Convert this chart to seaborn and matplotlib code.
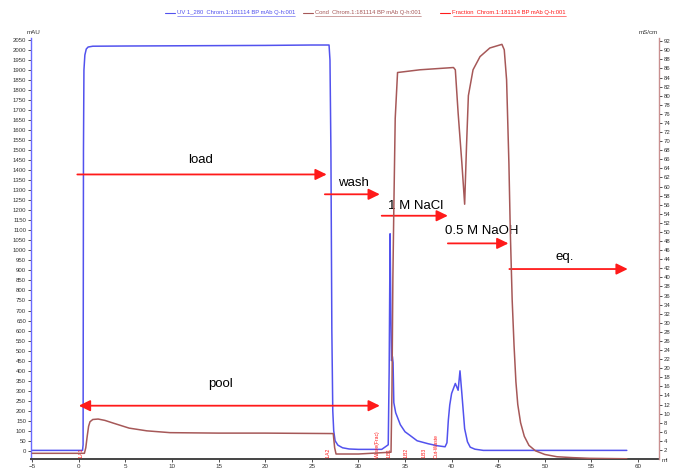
import matplotlib
matplotlib.use("Agg")
import matplotlib.pyplot as plt
from matplotlib.lines import Line2D
import seaborn as sns
import pandas as pd

# ---------------- data ----------------
uv_ml = [-5.0, 0.40, 0.46, 0.50, 0.55, 0.65, 0.80, 1.00, 1.50, 5.0, 10.0, 15.0, 20.0, 25.0, 26.85,
         26.95, 27.05, 27.15, 27.25, 27.35, 27.5, 27.8, 28.3, 29.0, 30.0, 32.5, 32.9, 33.2, 33.3,
         33.4, 33.48, 33.55, 33.65, 33.72, 33.8, 34.0, 34.5, 35.0, 35.5, 36.3, 37.5, 38.5, 39.3,
         39.5, 39.65, 39.8, 40.0, 40.4, 40.7, 40.9, 41.1, 41.4, 41.7, 42.0, 42.5, 43.4, 45.0, 50.0,
         55.0, 58.8]
uv_mau = [2, 2, 30, 1500, 1900, 1975, 2005, 2015, 2019, 2020, 2021, 2022, 2023, 2025, 2025,
          1950, 1500, 600, 200, 100, 50, 28, 15, 9, 7, 7, 20, 30, 400,
          1083, 700, 450, 470, 440, 240, 190, 130, 95, 78, 50, 35, 25, 20,
          40, 153, 228, 286, 336, 302, 399, 286, 110, 45, 18, 8, 2, 2, 2,
          2, 2]

cond_ml = [-5.0, 0.60, 0.75, 0.90, 1.05, 1.20, 1.50, 2.07, 2.8, 3.7, 5.4, 7.3, 9.8, 15.0, 20.0,
           27.3, 27.45, 27.6, 30.0, 33.5, 33.6, 33.7, 33.8, 33.95, 34.2, 36.6, 40.2, 40.4, 40.7,
           41.1, 41.4, 41.6, 41.8, 42.3, 43.05, 44.1, 45.4, 45.65, 45.9, 46.15, 46.3, 46.5, 46.7,
           46.9, 47.1, 47.4, 47.8, 48.3, 49.0, 50.0, 51.3, 53.0, 54.8, 58.8]
cond_mscm = [1.25, 1.25, 2.5, 5.0, 7.2, 8.2, 8.7, 8.8, 8.5, 7.9, 6.8, 6.2, 5.8, 5.7, 5.7,
             5.6, 2.5, 1.1, 1.1, 1.5, 15, 40, 55, 75, 85.1, 85.7, 86.2, 85.7, 76.2,
             65.2, 56.1, 68.9, 80.0, 85.7, 88.6, 90.5, 91.3, 90.1, 83.5, 65.0, 50.0, 35.0, 25.0,
             17.0, 12.0, 8.0, 5.0, 3.0, 1.8, 1.0, 0.5, 0.3, 0.15, 0.05]

frac_ml = [0.3, 26.8, 32.1, 33.3, 35.1, 37.1, 38.4]
frac_labels = ["1.A1", "1.A2", "Waste(Frac)", "1.B1", "1.B2", "1.B3", "Out-Waste"]

phase_labels = ["load", "wash", "1 M NaCl", "0.5 M NaOH", "eq."]
phase_start = [-0.16, 26.4, 32.5, 39.6, 46.2]
phase_end = [26.6, 32.3, 39.6, 46.1, 58.9]
pool_start, pool_end = 0.0, 32.3

x_ticks = list(range(-5, 61, 5))
uv_ticks = list(range(0, 2051, 50))
cond_ticks = list(range(2, 93, 2))

legend_texts = ["UV 1_280  Chrom.1:181114 BP mAb Q-h:001",
                "Cond  Chrom.1:181114 BP mAb Q-h:001",
                "Fraction  Chrom.1:181114 BP mAb Q-h:001"]

# ---------------- style ----------------
sns.set_style("white")
plt.rcParams['font.family'] = ['Liberation Sans', 'DejaVu Sans']

BLUE = "#5252ee"
BROWN = "#a65858"
RED = "#ff1a1a"
W, H = 677, 468

fig = plt.figure(figsize=(W / 100, H / 100), dpi=100)
ax = fig.add_axes([31 / W, 9 / H, (658.5 - 31) / W, (459 - 38) / H])
ax2 = ax.twinx()

uv_df = pd.DataFrame({"ml": uv_ml, "mAU": uv_mau})
cond_df = pd.DataFrame({"ml": cond_ml, "mScm": cond_mscm})

sns.lineplot(data=uv_df, x="ml", y="mAU", ax=ax, color=BLUE, lw=1.1,
             sort=False, estimator=None, legend=False)
sns.lineplot(data=cond_df, x="ml", y="mScm", ax=ax2, color=BROWN, lw=1.1,
             sort=False, estimator=None, legend=False)

ax.set_xlim(-5.13, 62.2)
ax.set_ylim(-41, 2060)
ax2.set_ylim(0, 92.7)

ax.set_xlabel("")
ax.set_ylabel("")
ax2.set_ylabel("")

ax.set_xticks(x_ticks)
ax.set_yticks(uv_ticks)
ax2.set_yticks(cond_ticks)
ax.tick_params(axis="x", labelsize=4.5, length=2, width=0.6, pad=1.5, colors="#333333", direction="out", bottom=True)
ax.tick_params(axis="y", labelsize=4.3, length=2, width=0.6, pad=1.5, colors="#333333", direction="out", left=True)
ax2.tick_params(axis="y", labelsize=4.3, length=2, width=0.6, pad=1.5, colors="#333333", direction="out", right=True)

for a in (ax, ax2):
    a.spines["top"].set_visible(False)
    a.grid(False)
ax.spines["left"].set_color("#6a6aff")
ax.spines["left"].set_linewidth(1.0)
ax.spines["right"].set_visible(False)
ax2.spines["left"].set_visible(False)
ax2.spines["bottom"].set_visible(False)
ax2.spines["right"].set_color("#c99090")
ax2.spines["right"].set_linewidth(1.0)
ax.spines["bottom"].set_color("#444444")
ax.spines["bottom"].set_linewidth(1.4)
ax.patch.set_visible(False)

# axis unit labels
fig.text(34 / W, 1 - 32 / H, "mAU", fontsize=4.5, color="#333333", ha="center", va="center")
fig.text(648 / W, 1 - 32 / H, "mS/cm", fontsize=4.5, color="#333333", ha="center", va="center")
fig.text(662 / W, 1 - 460 / H, "ml", fontsize=4.5, color="#333333", ha="left", va="center")

# phase arrows
arrow_y = [1379, 1280, 1173, 1035, 907]
text_xy = [(11.7, 1451), (27.8, 1336), (33.2, 1222), (39.3, 1097), (51.1, 967)]
astyle = "-|>,head_length=0.45,head_width=0.22"
for lab, x0, x1, yy, (tx, ty) in zip(phase_labels, phase_start, phase_end, arrow_y, text_xy):
    ax.annotate("", xy=(x1, yy), xytext=(x0, yy),
                arrowprops=dict(arrowstyle=astyle, color=RED, lw=1.3,
                                mutation_scale=15, shrinkA=0, shrinkB=0))
    ax.text(tx, ty, lab, fontsize=9.5, color="black", ha="left", va="center")

ax.annotate("", xy=(pool_end, 225), xytext=(pool_start, 225),
            arrowprops=dict(arrowstyle="<|-|>,head_length=0.45,head_width=0.22", color=RED,
                            lw=1.3, mutation_scale=15, shrinkA=0, shrinkB=0))
ax.text(13.9, 333, "pool", fontsize=9.5, color="black", ha="left", va="center")

# fraction marks
for fx, fl in zip(frac_ml, frac_labels):
    ax.text(fx, -36, fl, rotation=90, fontsize=3.6, color=RED, ha="center", va="bottom")

# header legend
renderer = fig.canvas.get_renderer()
legend_colors = [BLUE, BROWN, RED]
legend_x = [176.5, 315, 452.5]
sample_x = [(165, 175), (303, 313), (440, 450)]
ly = 1 - 12.7 / H
for txt, col, lx, (s0, s1) in zip(legend_texts, legend_colors, legend_x, sample_x):
    fig.add_artist(Line2D([s0 / W, s1 / W], [ly, ly], color=col, lw=0.8, transform=fig.transFigure))
    t = fig.text(lx / W, ly, txt, fontsize=4.2, color=col, ha="left", va="center")
    bb = t.get_window_extent(renderer)
    fig.add_artist(Line2D([bb.x0 / W, bb.x1 / W], [(bb.y0 - 0.3) / H, (bb.y0 - 0.3) / H],
                          color=col, lw=0.4, transform=fig.transFigure))

fig.savefig("out.png", dpi=100)
